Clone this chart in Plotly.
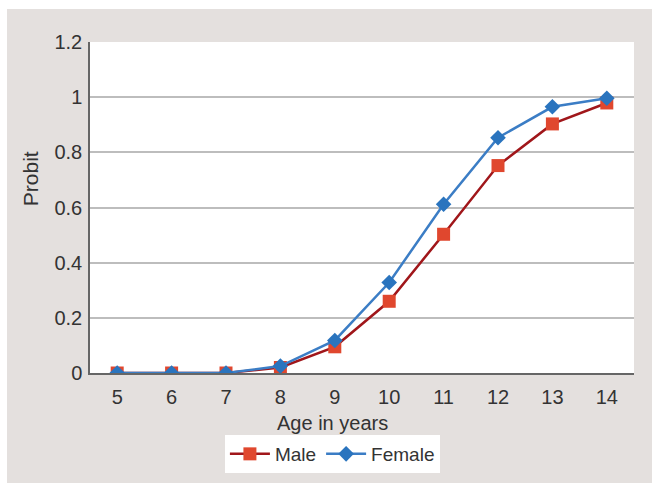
import plotly.graph_objects as go

# Age groups and probit values per sex
ages = [5, 6, 7, 8, 9, 10, 11, 12, 13, 14]
male = [0, 0, 0, 0.02, 0.095, 0.26, 0.503, 0.752, 0.903, 0.979]
female = [0, 0, 0, 0.025, 0.118, 0.328, 0.612, 0.853, 0.965, 0.996]
y_ticks = [0, 0.2, 0.4, 0.6, 0.8, 1.0, 1.2]
y_tick_text = ["0", "0.2", "0.4", "0.6", "0.8", "1", "1.2"]

FONT = "Liberation Sans, Arial, sans-serif"
TEXT = "#333333"
BG = "#E4E0DE"
FS = 20

fig = go.Figure()
fig.add_trace(go.Scatter(
    x=ages, y=male, name="Male", mode="lines+markers",
    line=dict(color="#A0161A", width=2.5),
    marker=dict(symbol="square", size=13, color="#E0472E"),
))
fig.add_trace(go.Scatter(
    x=ages, y=female, name="Female", mode="lines+markers",
    line=dict(color="#3B7DC5", width=2.5),
    marker=dict(symbol="diamond", size=12, color="#2A74BE"),
))

fig.update_layout(
    width=652, height=483,
    margin=dict(l=90, r=18, t=42, b=110, autoexpand=False),
    paper_bgcolor=BG, plot_bgcolor="white",
    font=dict(family=FONT, size=FS, color=TEXT),
    showlegend=True,
    legend=dict(orientation="h", x=0.248, y=(373 - 454) / 331, xanchor="left", yanchor="middle",
                bgcolor="white", font=dict(size=19, color=TEXT),
                itemwidth=40, traceorder="normal"),
    xaxis=dict(range=[4.5, 14.5], tickmode="array", tickvals=ages,
               showgrid=False, zeroline=False, showline=True,
               linecolor="#666666", linewidth=1.5, ticks="",
               ticklabelstandoff=5, tickfont=dict(size=FS, color=TEXT)),
    yaxis=dict(range=[0, 1.2], tickmode="array", tickvals=y_ticks, ticktext=y_tick_text,
               showgrid=True, gridcolor="#BDBDBD", gridwidth=1.5, zeroline=False,
               showline=True, linecolor="#666666", linewidth=1.5, ticks="",
               ticklabelstandoff=2, tickfont=dict(size=FS, color=TEXT)),
    shapes=[
        # white strips around the grey panel
        dict(type="rect", xref="paper", yref="paper", x0=-0.2, x1=1.1,
             y0=(373 - 9) / 331, y1=1.2, fillcolor="white", line_width=0, layer="above"),
        dict(type="rect", xref="paper", yref="paper", x0=-0.2, x1=(7 - 90) / 544,
             y0=-0.4, y1=1.2, fillcolor="white", line_width=0, layer="above"),
    ],
    annotations=[
        dict(text="Age in years", xref="paper", yref="paper", x=0.445, y=-0.150,
             xanchor="center", yanchor="middle", showarrow=False,
             font=dict(size=FS, color=TEXT)),
        dict(text="Probit", xref="paper", yref="paper", x=-0.110, y=0.586,
             xanchor="center", yanchor="middle", showarrow=False, textangle=-90,
             font=dict(size=21, color=TEXT)),
    ],
)

fig.write_html("out.html")
